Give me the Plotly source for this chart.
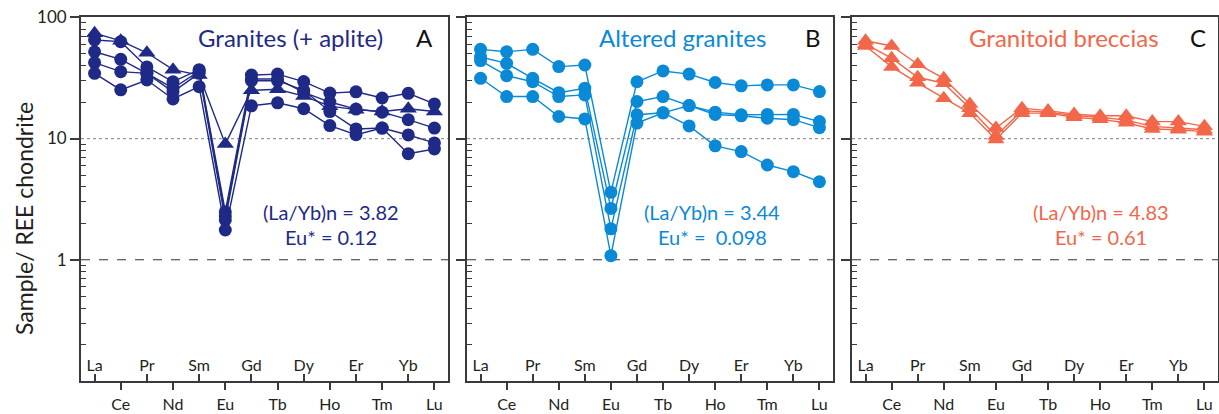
import plotly.graph_objects as go

# Rare earth elements, chondrite-normalised
ree = ["La", "Ce", "Pr", "Nd", "Sm", "Eu", "Gd", "Tb", "Dy", "Ho", "Er", "Tm", "Yb", "Lu"]

# A - Granites (+ aplite)
granite_aplite = [74, 64, 51, 37, 33.4, 9.0, 25, 25.5, 22.4, 18.5, 17.3, 16.7, 17.6, 16.7]
granite_1 = [65, 63, 39, 29.4, 37, 2.49, 33.4, 34, 29.5, 23.7, 24.3, 21.6, 23.6, 19.3]
granite_2 = [52, 45, 34.5, 26, 36, 2.3, 31, 31, 24, 20, 17.5, 16.5, 14.3, 12.2]
granite_3 = [42.3, 35.6, 34.5, 24.3, 34.5, 2.13, 30, 30, 25, 16.7, 12, 12.2, 10.7, 9.2]
granite_4 = [34.5, 25.2, 30.4, 21.2, 26.8, 1.76, 18.6, 19.7, 17.6, 12.8, 10.75, 12.2, 7.5, 8.2]

# B - Altered granites
altered_1 = [54.4, 52, 54.4, 39.2, 40.4, 3.6, 29.4, 36.1, 34, 29, 27.2, 27.7, 27.7, 24.4]
altered_2 = [47, 41.7, 31.4, 23.9, 26, 2.65, 20.2, 22.2, 18.7, 16.5, 15.7, 15.8, 15.8, 13.8]
altered_3 = [44, 33, 29.4, 22.2, 22.9, 1.8, 15.7, 16.3, 18.7, 15.8, 15.4, 14.7, 14.3, 12.3]
altered_4 = [31.4, 22.2, 22.2, 15.2, 14.5, 1.08, 13.4, 16.3, 12.7, 8.7, 7.8, 6.05, 5.33, 4.4]

# C - Granitoid breccias
breccia_1 = [64, 58, 41, 31.4, 19.3, 12.2, 17.8, 17, 15.9, 15.4, 15.4, 13.8, 13.8, 12.6]
breccia_2 = [60, 46, 32, 28.6, 17.8, 10.5, 17, 16.5, 15.5, 15, 14.2, 12.6, 12.2, 11.8]
breccia_3 = [58, 39, 28.8, 21.5, 16.2, 9.8, 16.2, 16.2, 15, 14.4, 13.5, 12, 11.8, 11.4]

panel_titles = ["Granites (+ aplite)", "Altered granites", "Granitoid breccias"]
panel_letters = ["A", "B", "C"]
la_yb = ["(La/Yb)n = 3.82", "(La/Yb)n = 3.44", "(La/Yb)n = 4.83"]
eu_star = ["Eu* = 0.12", "Eu* =  0.098", "Eu* = 0.61"]

y_tick_vals = [0.1, 1, 10, 100]
y_tick_text = ["0.1", "1", "10", "100"]

NAVY = "#1f2a86"
BLUE = "#0a8ad6"
CORAL = "#f2674a"
AXIS = "#3a3a3a"
FONT = "Lato"

panels = [
    (NAVY, [(granite_aplite, "triangle-up"), (granite_1, "circle"), (granite_2, "circle"),
            (granite_3, "circle"), (granite_4, "circle")]),
    (BLUE, [(altered_1, "circle"), (altered_2, "circle"), (altered_3, "circle"),
            (altered_4, "circle")]),
    (CORAL, [(breccia_1, "triangle-up"), (breccia_2, "triangle-up"), (breccia_3, "triangle-up")]),
]

W, H = 1219, 414
x_domains = [(81 / W, 448 / W), (467 / W, 833 / W), (852 / W, 1218 / W)]
y_domain = [(H - 381) / H, (H - 17.3) / H]
x_range = [-0.52, 13.52]

idx = list(range(len(ree)))
odd_idx = idx[1::2]
even_idx = idx[0::2]

minor_vals = [m * 10 ** e for e in (-1, 0, 1) for m in range(2, 10)]

fig = go.Figure()
layout = dict(
    width=W, height=H,
    margin=dict(l=0, r=0, t=0, b=0, autoexpand=False),
    paper_bgcolor="white", plot_bgcolor="white",
    showlegend=False,
    font=dict(family=FONT, color="#231f20"),
)
shapes = []
annotations = []

for p, (color, series) in enumerate(panels):
    n = p + 1
    xa = "x" if n == 1 else f"x{n}"
    ya = "y" if n == 1 else f"y{n}"
    xkey = "xaxis" if n == 1 else f"xaxis{n}"
    ykey = "yaxis" if n == 1 else f"yaxis{n}"
    over_n = n + 3
    over_key = f"xaxis{over_n}"

    # reference lines at 10 and 1
    shapes.append(dict(type="line", xref=f"{xa} domain", yref=ya, x0=0, x1=1, y0=10, y1=10,
                       line=dict(color="#9a9a9a", width=1.2, dash="dot"), layer="below"))
    shapes.append(dict(type="line", xref=f"{xa} domain", yref=ya, x0=0, x1=1, y0=1, y1=1,
                       line=dict(color="#333333", width=1.2, dash="dash"), layer="below"))

    for values, symbol in series:
        fig.add_trace(go.Scatter(
            x=idx, y=values, xaxis=xa, yaxis=ya, mode="lines+markers",
            line=dict(color=color, width=1.4),
            marker=dict(symbol=symbol, size=13 if symbol == "circle" else 15,
                        color=color, line=dict(width=0)),
            hoverinfo="skip",
        ))
    # carrier trace so the second (inside-tick) x axis is drawn
    fig.add_trace(go.Scatter(
        x=[ree.index("La")], y=[1], xaxis=f"x{over_n}", yaxis=ya, mode="markers",
        marker=dict(opacity=0), hoverinfo="skip",
    ))

    layout[xkey] = dict(
        domain=list(x_domains[p]), anchor=ya, range=x_range, automargin=False,
        tickmode="array", tickvals=odd_idx, ticktext=[ree[i] for i in odd_idx],
        ticks="outside", ticklen=7, tickwidth=1.5, tickcolor=AXIS,
        ticklabelstandoff=1,
        showline=True, linecolor=AXIS, linewidth=1.8, mirror=True,
        showgrid=False, zeroline=False,
        tickfont=dict(size=16, family=FONT, color="#231f20"),
    )
    layout[over_key] = dict(
        overlaying=xa, anchor=ya, side="bottom", range=x_range, automargin=False,
        tickmode="array", tickvals=even_idx, ticktext=[ree[i] for i in even_idx],
        ticks="inside", ticklen=7, tickwidth=1.5, tickcolor=AXIS,
        ticklabelposition="inside",
        showline=False, showgrid=False, zeroline=False,
        tickfont=dict(size=16, family=FONT, color="#231f20"),
    )
    layout[ykey] = dict(
        domain=y_domain, anchor=xa, type="log", range=[-1, 2], automargin=False,
        tickmode="array", tickvals=y_tick_vals, ticktext=y_tick_text,
        showticklabels=(n == 1),
        ticks="outside", ticklen=9, tickwidth=1.5, tickcolor=AXIS,
        minor=dict(tickmode="array", tickvals=minor_vals, ticks="inside",
                   ticklen=5, tickwidth=1, tickcolor=AXIS, showgrid=False),
        showline=True, linecolor=AXIS, linewidth=1.8, mirror=True,
        showgrid=False, zeroline=False,
        tickfont=dict(size=17, family=FONT, color="#231f20"),
    )

    x0, x1 = x_domains[p]
    span = x1 - x0
    title_cx = [0.57, 0.59, 0.58][p]
    annotations.append(dict(text=panel_titles[p], xref="paper", yref="paper",
                            x=x0 + span * title_cx, y=(H - 38) / H, showarrow=False,
                            font=dict(size=24, color=color, family=FONT),
                            xanchor="center", yanchor="middle"))
    annotations.append(dict(text=panel_letters[p], xref="paper", yref="paper",
                            x=x0 + span * [0.937, 0.945, 0.945][p], y=(H - 38) / H,
                            showarrow=False,
                            font=dict(size=24, color="#111111", family=FONT),
                            xanchor="center", yanchor="middle"))
    stat_cx = [0.68, 0.67, 0.68][p]
    annotations.append(dict(text=la_yb[p], xref="paper", yref="paper",
                            x=x0 + span * stat_cx, y=(H - 212) / H, showarrow=False,
                            font=dict(size=20, color=color, family=FONT),
                            xanchor="center", yanchor="middle"))
    annotations.append(dict(text=eu_star[p], xref="paper", yref="paper",
                            x=x0 + span * stat_cx, y=(H - 237) / H, showarrow=False,
                            font=dict(size=20, color=color, family=FONT),
                            xanchor="center", yanchor="middle"))

annotations.append(dict(text="Sample/ REE chondrite", xref="paper", yref="paper",
                        x=24 / W, y=(H - 219) / H, showarrow=False, textangle=-90,
                        font=dict(size=23, color="#231f20", family=FONT),
                        xanchor="center", yanchor="middle"))

layout["shapes"] = shapes
layout["annotations"] = annotations
fig.update_layout(**layout)

fig.write_html("out.html")
